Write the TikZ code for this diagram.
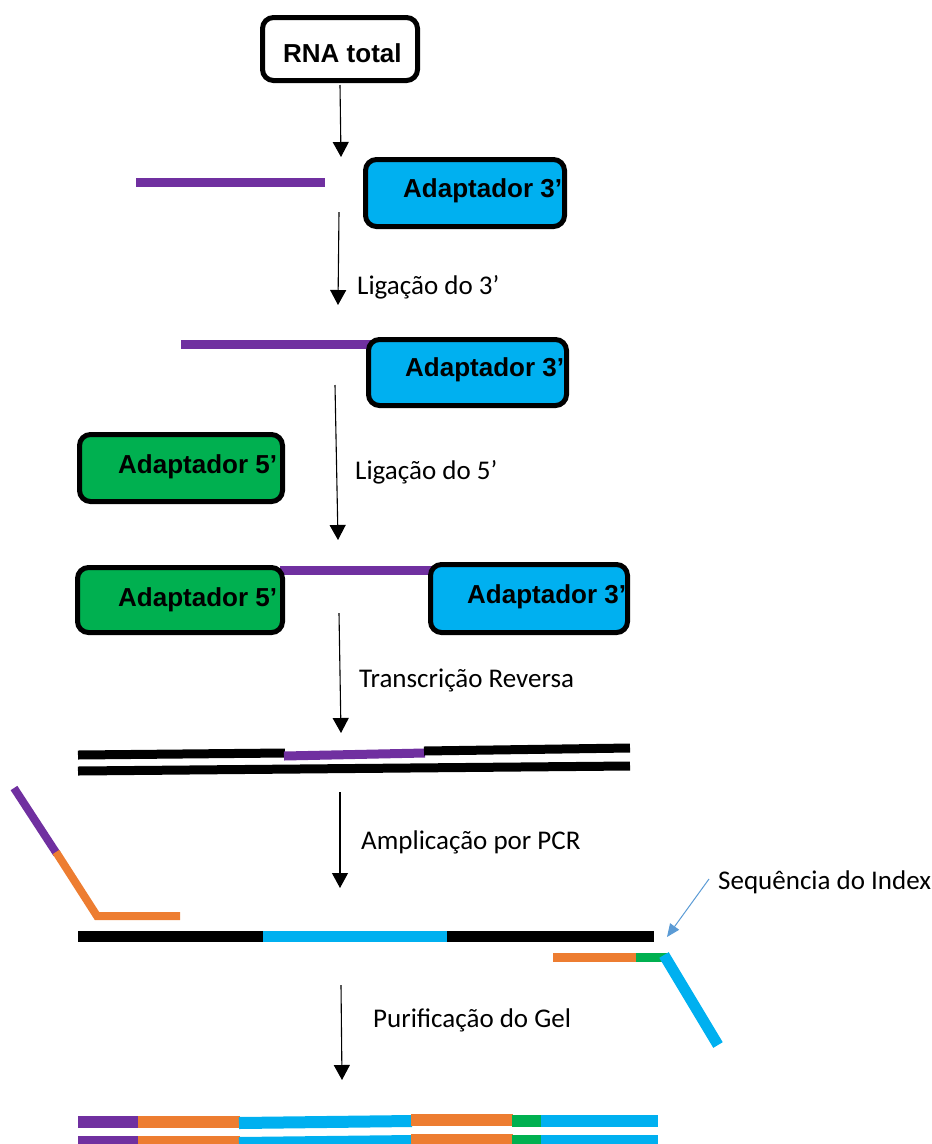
\documentclass[tikz,border=0pt]{standalone}
\usepackage{fontspec}
\setmainfont{Carlito}
\newfontfamily\arialfont{Liberation Sans}
\usetikzlibrary{arrows.meta}
\definecolor{cpurple}{HTML}{7030A0}
\definecolor{cblue}{HTML}{00B0F0}
\definecolor{cgreen}{HTML}{00B050}
\definecolor{corange}{HTML}{ED7D31}
\definecolor{cindex}{HTML}{5B9BD5}
\begin{document}
\begin{tikzpicture}[x=1pt,y=-1pt,
  box/.style={draw=black, line width=5pt, rounded corners=11pt, inner sep=0pt},
  boxtxt/.style={font=\arialfont\bfseries\fontsize{26}{30}\selectfont, inner sep=0pt, anchor=base west},
  lbl/.style={font=\fontsize{27}{32}\selectfont, inner sep=0pt, anchor=base west},
  flow/.style={line width=1.1pt, -{Triangle[width=16pt,length=15pt]}},
  strand/.style={line width=9pt},
  thick strand/.style={line width=12pt},
]
\useasboundingbox (0,0) rectangle (932,1144);
\clip (0,0) rectangle (932,1144);

% ---------- strands drawn behind boxes ----------
\draw[strand, cpurple] (136,182) -- (325,182);
\draw[strand, cpurple] (181,344) -- (372,344);
\draw[strand, cpurple] (280,570) -- (432,570);

% ---------- boxes ----------
\node[box, fill=white, minimum width=155, minimum height=63] (rna) at (340,49) {};
\node[boxtxt] at (283,62) {RNA total};

\node[box, fill=cblue, minimum width=199, minimum height=67] (a3a) at (465,193) {};
\node[boxtxt] at (403,197) {Adaptador 3’};

\node[box, fill=cblue, minimum width=198, minimum height=66] (a3b) at (467.5,372.5) {};
\node[boxtxt] at (405,376) {Adaptador 3’};

\node[box, fill=cgreen, minimum width=203, minimum height=67] (a5a) at (181,468) {};
\node[boxtxt] at (118,473) {Adaptador 5’};

\node[box, fill=cgreen, minimum width=205, minimum height=65] (a5b) at (180,600) {};
\node[boxtxt] at (118,606) {Adaptador 5’};

\node[box, fill=cblue, minimum width=197, minimum height=68] (a3c) at (529,598.5) {};
\node[boxtxt] at (467,603) {Adaptador 3’};

% ---------- flow arrows ----------
\coordinate (f1s) at (340,85);  \coordinate (f1e) at (341,157);
\coordinate (f2s) at (339,212); \coordinate (f2e) at (338,305);
\coordinate (f3s) at (335,385); \coordinate (f3e) at (338,540);
\coordinate (f4s) at (339,613); \coordinate (f4e) at (341,733);
\coordinate (f5s) at (340,792); \coordinate (f5e) at (340,888);
\coordinate (f6s) at (341,985); \coordinate (f6e) at (342,1080);
\draw[flow] (f1s) -- (f1e);
\draw[flow] (f2s) -- (f2e);
\draw[flow] (f3s) -- (f3e);
\draw[flow] (f4s) -- (f4e);
\draw[flow] (f5s) -- (f5e);
\draw[flow] (f6s) -- (f6e);

% ---------- step labels ----------
\node[lbl] (l1) at (357,294) {Ligação do 3’};
\node[lbl] (l2) at (355,479) {Ligação do 5’};
\node[lbl] (l3) at (359,687) {Transcrição Reversa};
\node[lbl] (l4) at (361,849) {Amplicação por PCR};
\node[lbl] (l5) at (373,1027) {Purificação do Gel};
\node[lbl] (idx) at (718,889) {Sequência do Index};

% ---------- reverse transcription duplex ----------
\draw[strand, black] (78,755) -- (285,753);
\draw[strand, cpurple] (284,756) -- (425,753);
\draw[strand, black] (424,751) -- (630,748);
\draw[strand, black] (78,771) -- (630,766);

% ---------- PCR ----------
\draw[line width=8pt, cpurple] (14,788) -- (57,854);
\draw[line width=8pt, corange, line join=miter] (56,852) -- (97,916) -- (180,916);
\draw[line width=11pt, black] (78,936) -- (264,936);
\draw[line width=11pt, cblue] (263,936) -- (448,936);
\draw[line width=11pt, black] (447,936) -- (654,936);
\draw[line width=9pt, corange] (553,957) -- (637,957);
\draw[line width=9pt, cgreen] (636,957) -- (668,957);
\draw[line width=11pt, cblue] (664,955) -- (718,1045);
\coordinate (ixs) at (709,879);
\coordinate (ixe) at (667,937);
\draw[cindex, line width=1pt, -{Triangle[width=11pt,length=13pt]}] (ixs) -- (ixe);

% ---------- gel purified products ----------
\foreach \y in {1122, 1142}{
  \draw[thick strand, cpurple] (78,\y) -- (139,\y);
  \draw[thick strand, corange] (138,\y) -- (240,\y);
  \draw[thick strand, cblue] (239,\y+1) -- (412,\y-1);
  \draw[thick strand, corange] (411,\y-2) -- (513,\y-2);
  \draw[thick strand, cgreen] (512,\y-1) -- (542,\y-1);
  \draw[thick strand, cblue] (541,\y-1) -- (658,\y-1);
}
\end{tikzpicture}
\end{document}
